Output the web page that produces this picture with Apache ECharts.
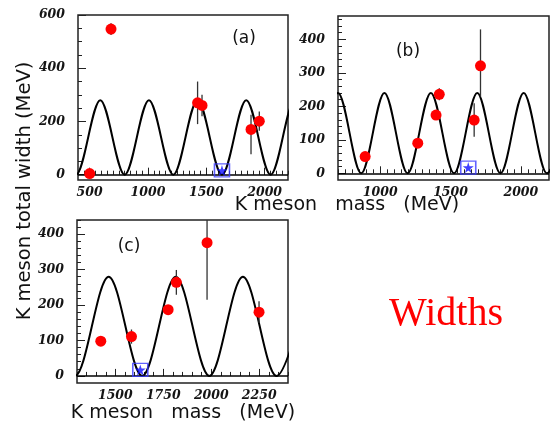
<!DOCTYPE html>
<html>
<head>
<meta charset="utf-8">
<script src="https://cdn.jsdelivr.net/npm/echarts@6/dist/echarts.min.js"></script>
<style>html,body{margin:0;padding:0;background:#fff}#c{width:553px;height:425px}</style>
</head>
<body>
<div id="c"></div>
<script>
// ---------- Panel (a) ----------
const aMass  = [500, 683, 1425, 1463, 1883, 1954];
const aWidth = [4, 547, 270, 260, 170, 201];
const aErrUp = [0, 22, 80, 40, 55, 36];
const aErrDn = [0, 22, 80, 40, 93, 36];
const aStar  = [1634, 16];
// extrema of the oscillating curve (first/last lie outside the frame)
const aCurveX = [174, 383, 591, 800, 1008, 1217, 1425, 1634, 1842, 2051, 2259, 2468];
const aCurveY = [280, 0, 280, 0, 280, 0, 280, 0, 280, 0, 280, 0];
const aXTicks = [500, 1000, 1500, 2000];
const aYTicks = [0, 200, 400, 600];

// ---------- Panel (b) ----------
const bMass  = [893, 1267, 1397, 1420, 1668, 1713];
const bWidth = [50, 90, 174, 236, 159, 321];
const bErrUp = [0, 0, 0, 18, 50, 109];
const bErrDn = [0, 0, 0, 18, 50, 92];
const bStar  = [1626, 17];
const bCurveX = [535, 700, 865, 1030, 1195, 1360, 1525, 1690, 1855, 2020, 2185, 2350];
const bCurveY = [0, 240, 0, 240, 0, 240, 0, 240, 0, 240, 0, 240];
const bXTicks = [1000, 1500, 2000];
const bYTicks = [0, 100, 200, 300, 400];

// ---------- Panel (c) ----------
const cMass  = [1424, 1584, 1775, 1818, 1978, 2249];
const cWidth = [98, 111, 187, 264, 376, 180];
const cErrUp = [0, 20, 0, 35, 100, 31];
const cErrDn = [0, 20, 0, 35, 161, 30];
const cStar  = [1630, 17];
const cCurveX = [1115, 1290, 1465, 1640, 1815, 1990, 2165, 2340, 2515];
const cCurveY = [280, 0, 280, 0, 280, 0, 280, 0, 280];
const cXTicks = [1500, 1750, 2000, 2250];
const cYTicks = [0, 100, 200, 300, 400];

const chart = echarts.init(document.getElementById('c'), null, {renderer: 'canvas'});

function range(a, b, s) { const r = []; for (let v = a; v <= b + 1e-9; v += s) r.push(v); return r; }

const panels = [
  {grid: {left: 78, top: 15, width: 210, height: 165}, x: [400, 2200], y: [-20, 600],
   xMaj: aXTicks, xMin: range(400, 2200, 50), yMaj: aYTicks, yMin: range(0, 600, 50),
   mass: aMass, width: aWidth, up: aErrUp, dn: aErrDn, star: aStar, cx: aCurveX, cy: aCurveY},
  {grid: {left: 338, top: 16, width: 211, height: 164}, x: [700, 2200], y: [-20, 470],
   xMaj: bXTicks, xMin: range(700, 2200, 50), yMaj: bYTicks, yMin: range(0, 460, 20),
   mass: bMass, width: bWidth, up: bErrUp, dn: bErrDn, star: bStar, cx: bCurveX, cy: bCurveY},
  {grid: {left: 77, top: 220, width: 211, height: 163}, x: [1300, 2400], y: [-20, 440],
   xMaj: cXTicks, xMin: range(1300, 2400, 50), yMaj: cYTicks, yMin: range(0, 440, 20),
   mass: cMass, width: cWidth, up: cErrUp, dn: cErrDn, star: cStar, cx: cCurveX, cy: cCurveY}
];

const labelFont = {fontFamily: 'DejaVu Serif', fontWeight: 'bold', fontStyle: 'italic', fontSize: 12.5, color: '#151515'};
const grids = [], xAxes = [], yAxes = [], series = [];
const starPath = 'path://M50,0 L61,35 L98,35 L68,57 L79,91 L50,70 L21,91 L32,57 L2,35 L39,35 Z';

panels.forEach((p, i) => {
  grids.push(Object.assign({show: true, borderColor: '#222', borderWidth: 1.5, backgroundColor: 'transparent'}, p.grid));
  const xi = xAxes.length, yi = yAxes.length;
  xAxes.push({gridIndex: i, type: 'value', position: 'bottom', min: p.x[0], max: p.x[1],
    axisLine: {show: false}, splitLine: {show: false},
    axisTick: {show: true, inside: true, length: 7, customValues: p.xMaj, lineStyle: {color: '#222', width: 1}},
    axisLabel: Object.assign({show: true, margin: 6, customValues: p.xMaj, formatter: v => String(v)}, labelFont)});
  xAxes.push({gridIndex: i, type: 'value', position: 'bottom', min: p.x[0], max: p.x[1],
    axisLine: {show: false}, splitLine: {show: false}, axisLabel: {show: false},
    axisTick: {show: true, inside: true, length: 4, customValues: p.xMin, lineStyle: {color: '#222', width: 1}}});
  yAxes.push({gridIndex: i, type: 'value', position: 'left', min: p.y[0], max: p.y[1],
    axisLine: {show: false}, splitLine: {show: false},
    axisTick: {show: true, inside: true, length: 8, customValues: p.yMaj, lineStyle: {color: '#222', width: 1}},
    axisLabel: Object.assign({show: true, margin: 13, customValues: p.yMaj, formatter: v => String(v)}, labelFont)});
  yAxes.push({gridIndex: i, type: 'value', position: 'left', min: p.y[0], max: p.y[1],
    axisLine: {show: false}, splitLine: {show: false}, axisLabel: {show: false},
    axisTick: {show: true, inside: true, length: 4, customValues: p.yMin, lineStyle: {color: '#222', width: 1}}});

  series.push({type: 'line', xAxisIndex: xi, yAxisIndex: yi, data: p.cx.map((x, k) => [x, p.cy[k]]),
    smooth: 1 / 3, smoothMonotone: 'x', showSymbol: false, symbol: 'none', clip: true,
    lineStyle: {color: '#000', width: 2}, z: 3, silent: true,
    markLine: {silent: true, symbol: 'none', label: {show: false},
      lineStyle: {color: '#000', width: 1.5, type: 'solid'}, data: [{yAxis: 0}]}});

  series.push({type: 'custom', xAxisIndex: xi, yAxisIndex: yi, z: 4, silent: true,
    data: p.mass.map((m, k) => [m, p.width[k], p.up[k], p.dn[k]]),
    renderItem: function (params, api) {
      const x = api.value(0), y = api.value(1), u = api.value(2), d = api.value(3);
      if (!u && !d) return null;
      const cs = params.coordSys;
      const top = api.coord([x, y + u]), bot = api.coord([x, y - d]);
      const y1 = Math.max(top[1], cs.y), y2 = Math.min(bot[1], cs.y + cs.height);
      return {type: 'line', shape: {x1: top[0], y1: y1, x2: bot[0], y2: y2},
        style: {stroke: '#333', lineWidth: 1.3}};
    }});

  series.push({type: 'scatter', xAxisIndex: xi, yAxisIndex: yi, z: 5, silent: true,
    data: p.mass.map((m, k) => [m, p.width[k]]), symbol: 'circle', symbolSize: 11,
    itemStyle: {color: '#ff0000', opacity: 1}});

  series.push({type: 'scatter', xAxisIndex: xi, yAxisIndex: yi, z: 6, silent: true,
    data: [p.star], symbol: 'rect', symbolSize: [15, 13],
    itemStyle: {color: 'rgba(0,0,0,0)', borderColor: '#3a3aff', borderWidth: 1.5}});
  series.push({type: 'scatter', xAxisIndex: xi, yAxisIndex: yi, z: 7, silent: true,
    data: [p.star], symbol: starPath, symbolSize: 11,
    itemStyle: {color: '#1010ff'}});
});

const titleFont = 'DejaVu Sans';
chart.setOption({
  animation: false,
  backgroundColor: '#fff',
  grid: grids, xAxis: xAxes, yAxis: yAxes, series: series,
  graphic: [
    {type: 'text', x: 25, y: 191, rotation: Math.PI / 2,
     style: {text: 'K meson total width (MeV)', fontFamily: titleFont, fontSize: 19.5, fill: '#111', align: 'center', verticalAlign: 'middle'}},
    {type: 'text', x: 347, y: 205,
     style: {text: 'K meson   mass   (MeV)', fontFamily: titleFont, fontSize: 19, fill: '#111', align: 'center', verticalAlign: 'middle'}},
    {type: 'text', x: 183, y: 413,
     style: {text: 'K meson   mass   (MeV)', fontFamily: titleFont, fontSize: 19, fill: '#111', align: 'center', verticalAlign: 'middle'}},
    {type: 'text', x: 244, y: 39,
     style: {text: '(a)', fontFamily: titleFont, fontSize: 17, fill: '#111', align: 'center', verticalAlign: 'middle'}},
    {type: 'text', x: 408, y: 52,
     style: {text: '(b)', fontFamily: titleFont, fontSize: 17, fill: '#111', align: 'center', verticalAlign: 'middle'}},
    {type: 'text', x: 129, y: 247,
     style: {text: '(c)', fontFamily: titleFont, fontSize: 17, fill: '#111', align: 'center', verticalAlign: 'middle'}},
    {type: 'text', x: 446, y: 314,
     style: {text: 'Widths', fontFamily: 'Liberation Serif', fontSize: 40, fill: '#ff0000', align: 'center', verticalAlign: 'middle'}}
  ]
});
</script>
</body>
</html>
